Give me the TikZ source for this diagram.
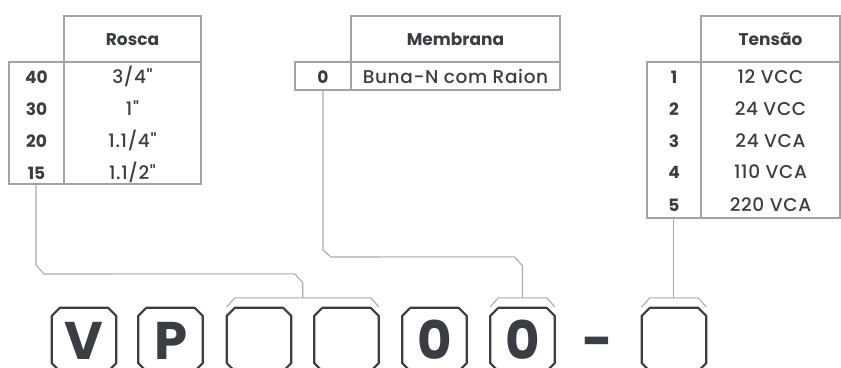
\documentclass[tikz,border=0pt]{standalone}
\usepackage{fontspec}
\setmainfont{Poppins}
\newfontfamily\valfont{Poppins Medium}[LetterSpace=3.5]
\usetikzlibrary{calc}
\definecolor{txt}{HTML}{3A3D42}
\definecolor{tline}{HTML}{A3A3A3}
\definecolor{cline}{HTML}{ABABAB}
\newcommand\chamferbox[1]{%
  \draw[boxline] ($(#1.north west)+(0,8)$) -- ($(#1.north west)+(8,0)$) --
    ($(#1.north east)+(-8,0)$) -- ($(#1.north east)+(0,8)$) --
    ($(#1.south east)+(0,-8)$) -- ($(#1.south east)+(-8,0)$) --
    ($(#1.south west)+(8,0)$) -- ($(#1.south west)+(0,-8)$) -- cycle;}
\newcommand\bracketover[2]{%
  \draw[conn] ($(#1.north west)+(0,-1)$) -- ($(#1.north west)+(8,-10)$) --
    ($(#2.north east)+(-8,-10)$) -- ($(#2.north east)+(0,-1)$);}
\begin{document}
\begin{tikzpicture}[x=1pt,y=-1pt,
  tab/.style={draw=tline, line width=1.3pt},
  conn/.style={draw=cline, line width=1.1pt},
  boxline/.style={draw=txt, line width=2.2pt, line join=round},
  hdr/.style={font=\fontsize{17}{17}\selectfont\bfseries, text=txt, anchor=base, inner sep=0pt},
  num/.style={font=\fontsize{17}{17}\selectfont\bfseries, text=txt, anchor=base, inner sep=0pt},
  val/.style={font=\valfont\fontsize{18.5}{18.5}\selectfont, text=txt, anchor=base, inner sep=0pt},
  boxn/.style={minimum width=64pt, minimum height=63pt, inner sep=0pt},
  big/.style={font=\fontsize{53}{53}\selectfont\bfseries, text=txt, anchor=base, inner sep=0pt},
]
\useasboundingbox (0,0) rectangle (841,367);

% ---------- Rosca table ----------
\draw[tab] (64,16) rectangle (201,62);
\draw[tab] (9,62) rectangle (201,184);
\draw[tab] (64,62) -- (64,184);
\node[hdr] (rh) at (132.5,45) {Rosca};
\node[num] (r1n) at (36.5,83) {40};
\node[num] (r2n) at (36.5,115) {30};
\node[num] (r3n) at (36.5,147) {20};
\node[num] (r4n) at (36.5,179) {15};
\node[val] (r1v) at (132.5,83) {3/4"};
\node[val] (r2v) at (132.5,115) {1"};
\node[val] (r3v) at (132.5,147) {1.1/4"};
\node[val] (r4v) at (132.5,179) {1.1/2"};
\coordinate (rosca) at (36,184);

% ---------- Membrana table ----------
\draw[tab] (351,16) rectangle (560,62);
\draw[tab] (295,62) rectangle (560,90);
\draw[tab] (351,62) -- (351,90);
\node[hdr] (mh) at (455.5,45) {Membrana};
\node[num] (m1n) at (323,83) {0};
\node[val] (m1v) at (455.5,83) {Buna-N com Raion};
\coordinate (memb) at (323,90);

% ---------- Tensao table ----------
\draw[tab] (701,16) rectangle (840,62);
\draw[tab] (647,62) rectangle (840,218);
\draw[tab] (701,62) -- (701,218);
\node[hdr] (th) at (770.5,45) {Tensão};
\node[num] (t1n) at (674,83) {1};
\node[num] (t2n) at (674,115) {2};
\node[num] (t3n) at (674,147) {3};
\node[num] (t4n) at (674,178) {4};
\node[num] (t5n) at (674,211) {5};
\node[val] (t1v) at (770.5,83) {12 VCC};
\node[val] (t2v) at (770.5,115) {24 VCC};
\node[val] (t3v) at (770.5,147) {24 VCA};
\node[val] (t4v) at (770.5,178) {110 VCA};
\node[val] (t5v) at (770.5,211) {220 VCA};
\coordinate (tens) at (673.5,218);

% ---------- code boxes ----------
\node[boxn] (b1) at (84,339.5) {};
\node[boxn] (b2) at (170.5,339.5) {};
\node[boxn] (b3) at (259,339.5) {};
\node[boxn] (b4) at (346.5,339.5) {};
\node[boxn] (b5) at (434.5,339.5) {};
\node[boxn] (b6) at (522.5,339.5) {};
\node[boxn] (b7) at (674,339.5) {};
\foreach \b in {b1,b2,b3,b4,b5,b6,b7}{\chamferbox{\b}}
\node[big] (v) at (84,359) {V};
\node[big] (p) at (171,359) {P};
\node[big] (o1) at (435,359) {0};
\node[big] (o2) at (523,359) {0};
\node[big] (dash) at (597.5,359) {-};

% ---------- brackets ----------
\bracketover{b3}{b4}
\bracketover{b6}{b6}
\bracketover{b7}{b7}

% ---------- connectors ----------
\coordinate (g34) at ($(b3.north west)!0.5!(b4.north east)+(0,-10)$);
\coordinate (g6) at ($(b6.north)+(0,-10)$);
\coordinate (g7) at ($(b7.north)+(0,-10)$);
\draw[conn] (rosca) -- (36,265) -- (44,274) -- ($(g34)+(-8,-24)$) -- ($(g34)+(0,-15)$) -- (g34);
\draw[conn] (memb) -- (323,250) -- (331,257) -- ($(g6)+(-8,-41)$) -- ($(g6)+(0,-32)$) -- (g6);
\draw[conn] (tens) -- (tens |- g7);
\end{tikzpicture}
\end{document}
